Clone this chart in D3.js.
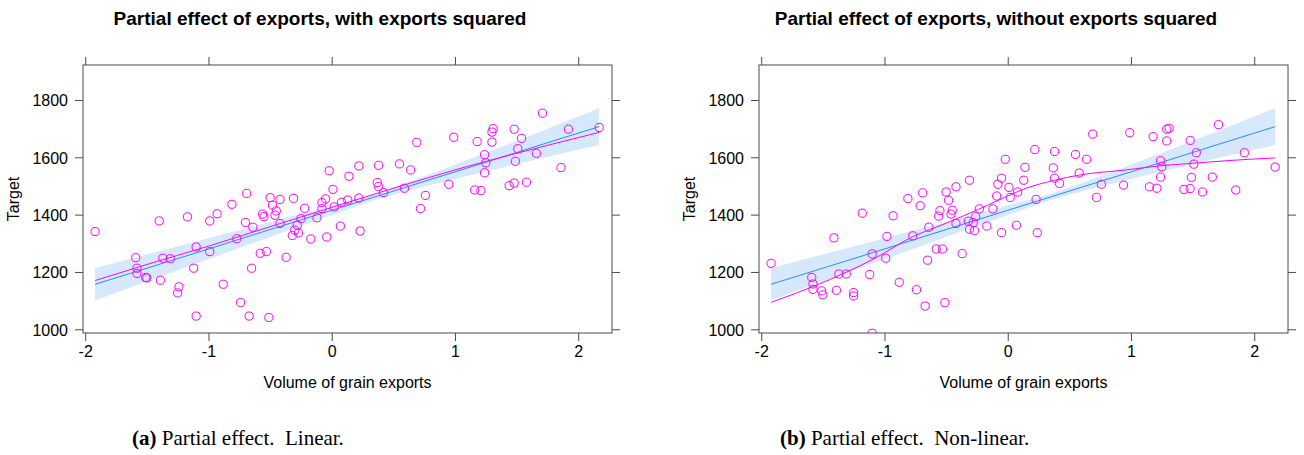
<!DOCTYPE html>
<html>
<head>
<meta charset="utf-8">
<script src="https://cdn.jsdelivr.net/npm/d3@7"></script>
<style>
  body { margin: 0; background: #fff; }
  svg text { font-family: "Liberation Sans", Arial, sans-serif; fill: #000; }
  .caption { font-family: "Liberation Serif", "Times New Roman", serif; }
</style>
</head>
<body>
<svg id="chart" width="1304" height="455"></svg>
<script>
// axis ticks
var xTicks = [-2, -1, 0, 1, 2];
var yTicks = [1000, 1200, 1400, 1600, 1800];

// partial residuals, model with exports squared
var linearExports = [-1.92, -1.59, -1.58, -1.58, -1.51, -1.50, -1.40, -1.39, -1.37, -1.31, -1.24, -1.25,
    -1.17, -1.12, -1.10, -1.10, -0.99, -0.99, -0.93, -0.88, -0.81, -0.77, -0.74, -0.70,
    -0.69, -0.67, -0.65, -0.64, -0.58, -0.56, -0.55, -0.53, -0.51, -0.50, -0.48, -0.46,
    -0.45, -0.42, -0.42, -0.37, -0.32, -0.31, -0.30, -0.28, -0.27, -0.25, -0.22, -0.17,
    -0.12, -0.08, -0.08, -0.05, -0.04, -0.02, 0.01, 0.02, 0.07, 0.08, 0.13, 0.14,
    0.22, 0.23, 0.22, 0.37, 0.38, 0.38, 0.42, 0.55, 0.59, 0.64, 0.69, 0.72,
    0.76, 0.95, 0.99, 1.16, 1.18, 1.21, 1.24, 1.25, 1.24, 1.30, 1.30, 1.31,
    1.44, 1.48, 1.48, 1.49, 1.51, 1.54, 1.58, 1.66, 1.71, 1.86, 1.92, 2.17];
var linearTarget = [1341, 1250, 1213, 1195, 1181, 1179, 1378, 1171, 1248, 1246, 1148, 1127,
    1392, 1213, 1287, 1046, 1271, 1378, 1403, 1157, 1436, 1316, 1093, 1373,
    1474, 1046, 1213, 1356, 1265, 1402, 1393, 1271, 1041, 1459, 1433, 1398,
    1413, 1453, 1369, 1251, 1327, 1457, 1346, 1363, 1336, 1386, 1422, 1315,
    1389, 1442, 1421, 1455, 1322, 1553, 1488, 1427, 1360, 1443, 1451, 1534,
    1570, 1343, 1458, 1512, 1498, 1572, 1477, 1577, 1492, 1556, 1652, 1421,
    1467, 1506, 1670, 1486, 1655, 1484, 1609, 1581, 1546, 1688, 1653, 1700,
    1501, 1510, 1698, 1586, 1630, 1666, 1513, 1614, 1754, 1564, 1698, 1704];

// partial residuals, model without exports squared
var nonlinearExports = [-1.92, -1.59, -1.58, -1.58, -1.51, -1.50, -1.41, -1.39, -1.37, -1.31, -1.25, -1.25,
    -1.18, -1.12, -1.10, -1.10, -0.99, -0.98, -0.93, -0.88, -0.81, -0.77, -0.74, -0.71,
    -0.69, -0.67, -0.65, -0.64, -0.58, -0.56, -0.55, -0.53, -0.51, -0.50, -0.48, -0.46,
    -0.45, -0.42, -0.42, -0.37, -0.31, -0.32, -0.31, -0.27, -0.28, -0.26, -0.23, -0.17,
    -0.12, -0.09, -0.08, -0.05, -0.05, -0.02, 0.01, 0.02, 0.07, 0.08, 0.13, 0.14,
    0.22, 0.23, 0.24, 0.37, 0.38, 0.38, 0.42, 0.55, 0.58, 0.64, 0.69, 0.72,
    0.76, 0.94, 0.99, 1.15, 1.18, 1.21, 1.24, 1.25, 1.24, 1.29, 1.29, 1.31,
    1.43, 1.48, 1.48, 1.49, 1.51, 1.53, 1.58, 1.66, 1.71, 1.85, 1.92, 2.17];
var nonlinearTarget = [1230, 1181, 1158, 1139, 1134, 1120, 1319, 1136, 1193, 1193, 1128, 1116,
    1405, 1191, 1263, 986, 1248, 1324, 1396, 1164, 1456, 1326, 1138, 1431,
    1476, 1081, 1241, 1356, 1280, 1395, 1414, 1280, 1093, 1479, 1450, 1402,
    1415, 1497, 1369, 1264, 1520, 1377, 1349, 1344, 1372, 1393, 1420, 1360,
    1420, 1465, 1506, 1527, 1337, 1593, 1495, 1460, 1363, 1479, 1520, 1565,
    1627, 1453, 1337, 1563, 1527, 1620, 1509, 1610, 1545, 1593, 1681, 1460,
    1506, 1503, 1686, 1497, 1672, 1492, 1588, 1567, 1531, 1698, 1657, 1701,
    1488, 1491, 1659, 1530, 1576, 1616, 1479, 1531, 1714, 1486, 1616, 1566];

// linear fit of target on exports and its confidence band
var fitExports = [-1.92, -1, -0.5, 0, 0.35, 0.7, 1.2, 1.7, 2.17];
var fitTarget  = [1157, 1280, 1348, 1415, 1462, 1509, 1576, 1644, 1707];
var fitLower   = [1101, 1244, 1322, 1398, 1451, 1492, 1545, 1597, 1643];
var fitUpper   = [1213, 1318, 1374, 1432, 1473, 1526, 1607, 1691, 1771];

// smoothers through the partial residuals
var smoothLinearX = [-1.92, -1.5, -1, -0.5, 0, 0.5, 1, 1.5, 2.17];
var smoothLinearY = [1170, 1226, 1290, 1358, 1425, 1492, 1556, 1614, 1687];
var smoothNonlinearX = [-1.92, -1.58, -1.31, -1.09, -0.77, -0.5, -0.24, -0.01, 0.15, 0.37, 0.58, 0.96, 1.23, 1.5, 1.77, 2.17];
var smoothNonlinearY = [1094, 1149, 1199, 1245, 1323, 1370, 1418, 1463, 1492, 1519, 1538, 1556, 1570, 1579, 1588, 1598];

var svg = d3.select("#chart");

// panel box size, shared by both panels
var width = 529, height = 268;
var x = d3.scaleLinear().domain([-2.018, 2.274]).range([0, width]);
var y = d3.scaleLinear().domain([987, 1922]).range([height, 0]);

var axisColor = "#4a4a4a";
var pointColor = "#ff00ff";
var lineColor = "#2b8cf0";
var bandColor = "#d6e8fb";

function zip(xs, ys) {
    return xs.map(function(v, i) { return [v, ys[i]]; });
}

//plain tick text, hyphen minus and no thousands separator
function plain(d) {
    return String(d);
}

//draw one panel with band, fit line, points and smoother
function draw_panel(left, title, px, py, sx, sy, caption) {
    var g = svg.append("g").attr("transform", "translate(" + left + ",65)");

    //confidence band
    var band = fitExports.map(function(v, i) { return [v, fitLower[i], fitUpper[i]]; });
    g.append("path")
        .datum(band)
        .attr("fill", bandColor)
        .attr("d", d3.area()
            .x(d => x(d[0]))
            .y0(d => y(d[1]))
            .y1(d => y(d[2]))
            .curve(d3.curveMonotoneX));

    //linear fit
    g.append("path")
        .datum(zip(fitExports, fitTarget))
        .attr("fill", "none")
        .attr("stroke", lineColor)
        .attr("stroke-width", 1)
        .attr("d", d3.line().x(d => x(d[0])).y(d => y(d[1])));

    //partial residuals, clipped to the box
    var clipId = "clip" + left;
    g.append("clipPath").attr("id", clipId)
        .append("rect").attr("width", width).attr("height", height);
    g.append("g")
        .attr("clip-path", "url(#" + clipId + ")")
        .selectAll("circle")
        .data(zip(px, py))
        .enter().append("circle")
        .attr("cx", d => x(d[0]))
        .attr("cy", d => y(d[1]))
        .attr("r", 4.1)
        .attr("fill", "none")
        .attr("stroke", pointColor)
        .attr("stroke-width", 1);

    //smoother
    g.append("path")
        .datum(zip(sx, sy))
        .attr("fill", "none")
        .attr("stroke", pointColor)
        .attr("stroke-width", 1)
        .attr("d", d3.line().x(d => x(d[0])).y(d => y(d[1])).curve(d3.curveMonotoneX));

    //axes on all four sides, labels only bottom and left
    var bottom = g.append("g").attr("transform", "translate(0," + height + ")")
        .call(d3.axisBottom(x).tickValues(xTicks).tickSize(8).tickPadding(4).tickFormat(plain));
    var top = g.append("g")
        .call(d3.axisTop(x).tickValues(xTicks).tickSize(8).tickFormat(""));
    var leftAxis = g.append("g")
        .call(d3.axisLeft(y).tickValues(yTicks).tickSize(8).tickPadding(7).tickFormat(plain));
    var right = g.append("g").attr("transform", "translate(" + width + ",0)")
        .call(d3.axisRight(y).tickValues(yTicks).tickSize(8).tickFormat(""));
    [bottom, top, leftAxis, right].forEach(function(a) {
        a.attr("font-size", null).attr("font-family", null);
        a.select(".domain").remove();
        a.selectAll("line").attr("stroke", axisColor);
        a.selectAll("text")
            .style("font-size", "16px")
            .attr("fill", "#000");
    });
    leftAxis.selectAll("text").attr("dy", "0.36em");
    bottom.selectAll("text").attr("dy", "0.75em");

    //panel border
    g.append("rect")
        .attr("width", width)
        .attr("height", height)
        .attr("fill", "none")
        .attr("stroke", axisColor)
        .attr("stroke-width", 1);

    //axis titles
    g.append("text")
        .attr("x", width / 2)
        .attr("y", 323)
        .attr("text-anchor", "middle")
        .style("font-size", "16px")
        .text("Volume of grain exports");
    g.append("text")
        .attr("transform", "translate(-64," + (height / 2) + ") rotate(-90)")
        .attr("text-anchor", "middle")
        .style("font-size", "16px")
        .text("Target");

    //panel title
    svg.append("text")
        .attr("x", left + 237)
        .attr("y", 25)
        .attr("text-anchor", "middle")
        .style("font-size", "19px")
        .style("font-weight", "bold")
        .text(title);

    //subfigure caption
    var cap = svg.append("text")
        .attr("class", "caption")
        .attr("x", caption.x)
        .attr("y", 445)
        .style("font-size", "21px");
    cap.append("tspan").style("font-weight", "bold").text(caption.tag);
    cap.append("tspan").text(" " + caption.text);
}

draw_panel(83, "Partial effect of exports, with exports squared",
    linearExports, linearTarget, smoothLinearX, smoothLinearY,
    {x: 132, tag: "(a)", text: "Partial effect.\u2002Linear."});
draw_panel(759, "Partial effect of exports, without exports squared",
    nonlinearExports, nonlinearTarget, smoothNonlinearX, smoothNonlinearY,
    {x: 780, tag: "(b)", text: "Partial effect.\u2002Non-linear."});
</script>
</body>
</html>
